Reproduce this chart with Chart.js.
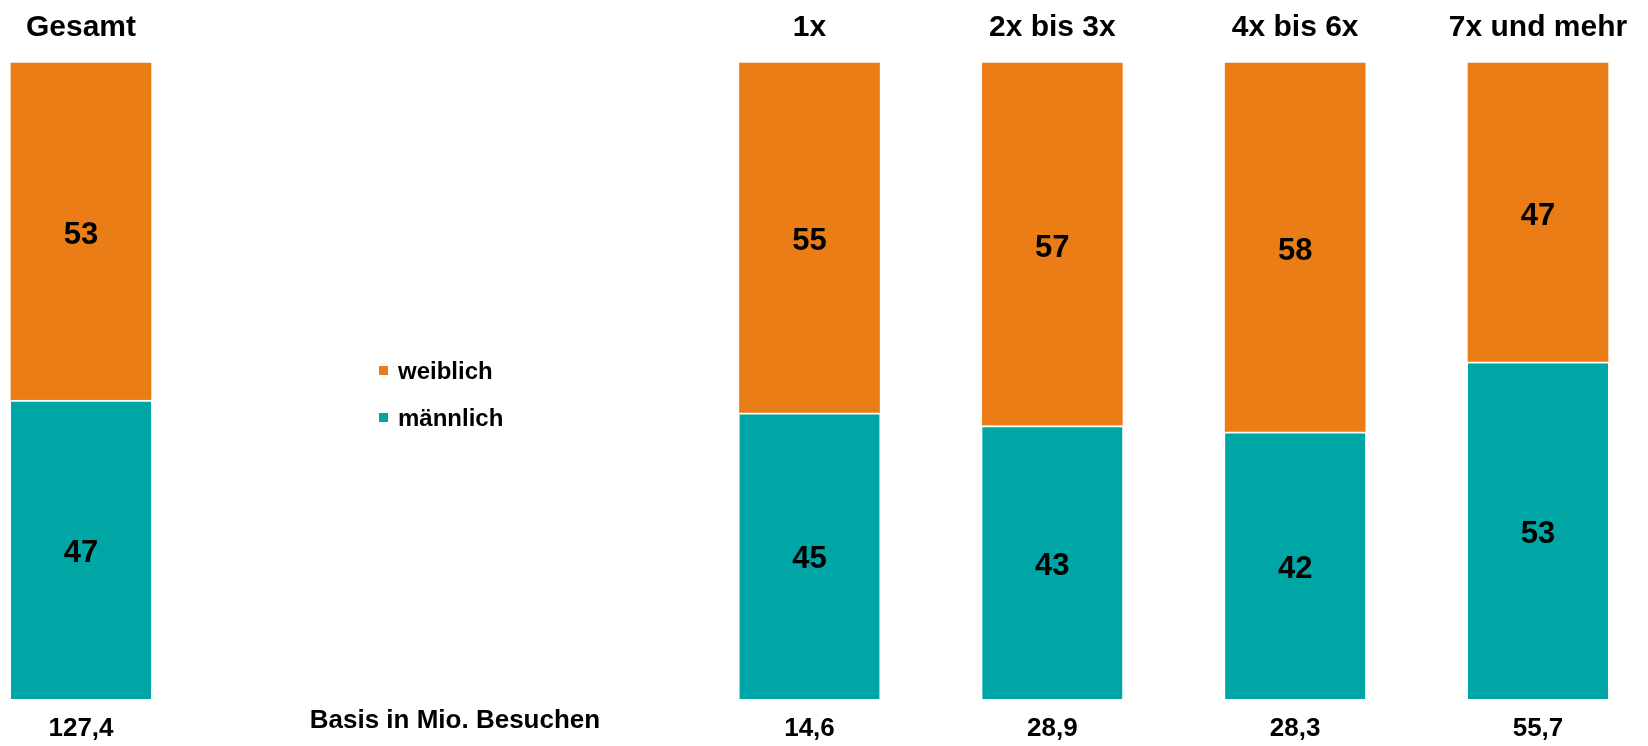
<!DOCTYPE html>
<html>
<head>
<meta charset="utf-8">
<script src="https://cdn.jsdelivr.net/npm/chart.js@4"></script>
<style>
  html,body{margin:0;padding:0;background:#fff;}
  #wrap{width:1648px;height:746px;position:relative;}
</style>
</head>
<body>
<div id="wrap"><canvas id="c" width="1648" height="746"></canvas></div>
<script>
'use strict';

// --- Data ---
const groups    = ['Gesamt', '', '', '1x', '2x bis 3x', '4x bis 6x', '7x und mehr'];
const maennlich = [47, null, null, 45, 43, 42, 53];
const weiblich  = [53, null, null, 55, 57, 58, 47];
const basis     = ['127,4', '', '', '14,6', '28,9', '28,3', '55,7'];
const basisNote = 'Basis in Mio. Besuchen';

const ORANGE = '#EA7D15';
const TEAL   = '#00A6A6';
const FONT   = 'Arial, "Liberation Sans", sans-serif';

// labels over, under and inside the bars + legend in the middle
const labelsPlugin = {
  id: 'labels',
  afterDatasetsDraw(chart){
    const ctx = chart.ctx;
    const x = chart.scales.x;
    ctx.save();
    ctx.fillStyle = '#000';
    ctx.textAlign = 'center';
    ctx.textBaseline = 'middle';

    // segment values
    ctx.font = 'bold 31px ' + FONT;
    chart.data.datasets.forEach((ds, di)=>{
      chart.getDatasetMeta(di).data.forEach((bar, i)=>{
        const v = ds.data[i];
        if(v == null) return;
        const p = bar.getProps(['x','y','base'], true);
        ctx.fillText(String(v), p.x, (p.y + p.base)/2 + 4);
      });
    });

    // group titles on top
    ctx.font = 'bold 30px ' + FONT;
    groups.forEach((g, i)=>{ if(g) ctx.fillText(g, x.getPixelForValue(i), 28); });

    // base sizes below
    ctx.font = 'bold 26px ' + FONT;
    basis.forEach((b, i)=>{ if(b) ctx.fillText(b, x.getPixelForValue(i), 729); });
    ctx.font = 'bold 26px ' + FONT;
    ctx.fillText(basisNote, x.getPixelForValue(1.54), 721);

    // legend
    ctx.textAlign = 'left';
    ctx.font = 'bold 24px ' + FONT;
    const items = [chart.data.datasets[1], chart.data.datasets[0]];
    items.forEach((ds, k)=>{
      const y = 371 + k*47;
      ctx.fillStyle = ds.backgroundColor;
      ctx.fillRect(379, y - 5, 9, 9);
      ctx.fillStyle = '#000';
      ctx.fillText(ds.label, 398, y + 1);
    });
    ctx.restore();
  }
};

new Chart(document.getElementById('c'), {
  type: 'bar',
  data: {
    labels: groups,
    datasets: [
      { label:'männlich', data: maennlich, backgroundColor: TEAL,
        borderColor:'#fff', borderWidth:{top:2, left:0, right:0, bottom:0}, borderSkipped:false },
      { label:'weiblich', data: weiblich, backgroundColor: ORANGE,
        borderColor:'#fff', borderWidth:0 }
    ]
  },
  options: {
    responsive: false,
    animation: false,
    events: [],
    clip: false,
    layout: { padding: { top: 63, bottom: 47, left: 81, right: 110 } },
    datasets: { bar: { barThickness: 140 } },
    plugins: { legend: { display:false }, tooltip: { enabled:false } },
    scales: {
      x: { display:false, stacked:true, offset:false },
      y: { display:false, stacked:true, min:0, max:100 }
    }
  },
  plugins: [labelsPlugin]
});
</script>
</body>
</html>
